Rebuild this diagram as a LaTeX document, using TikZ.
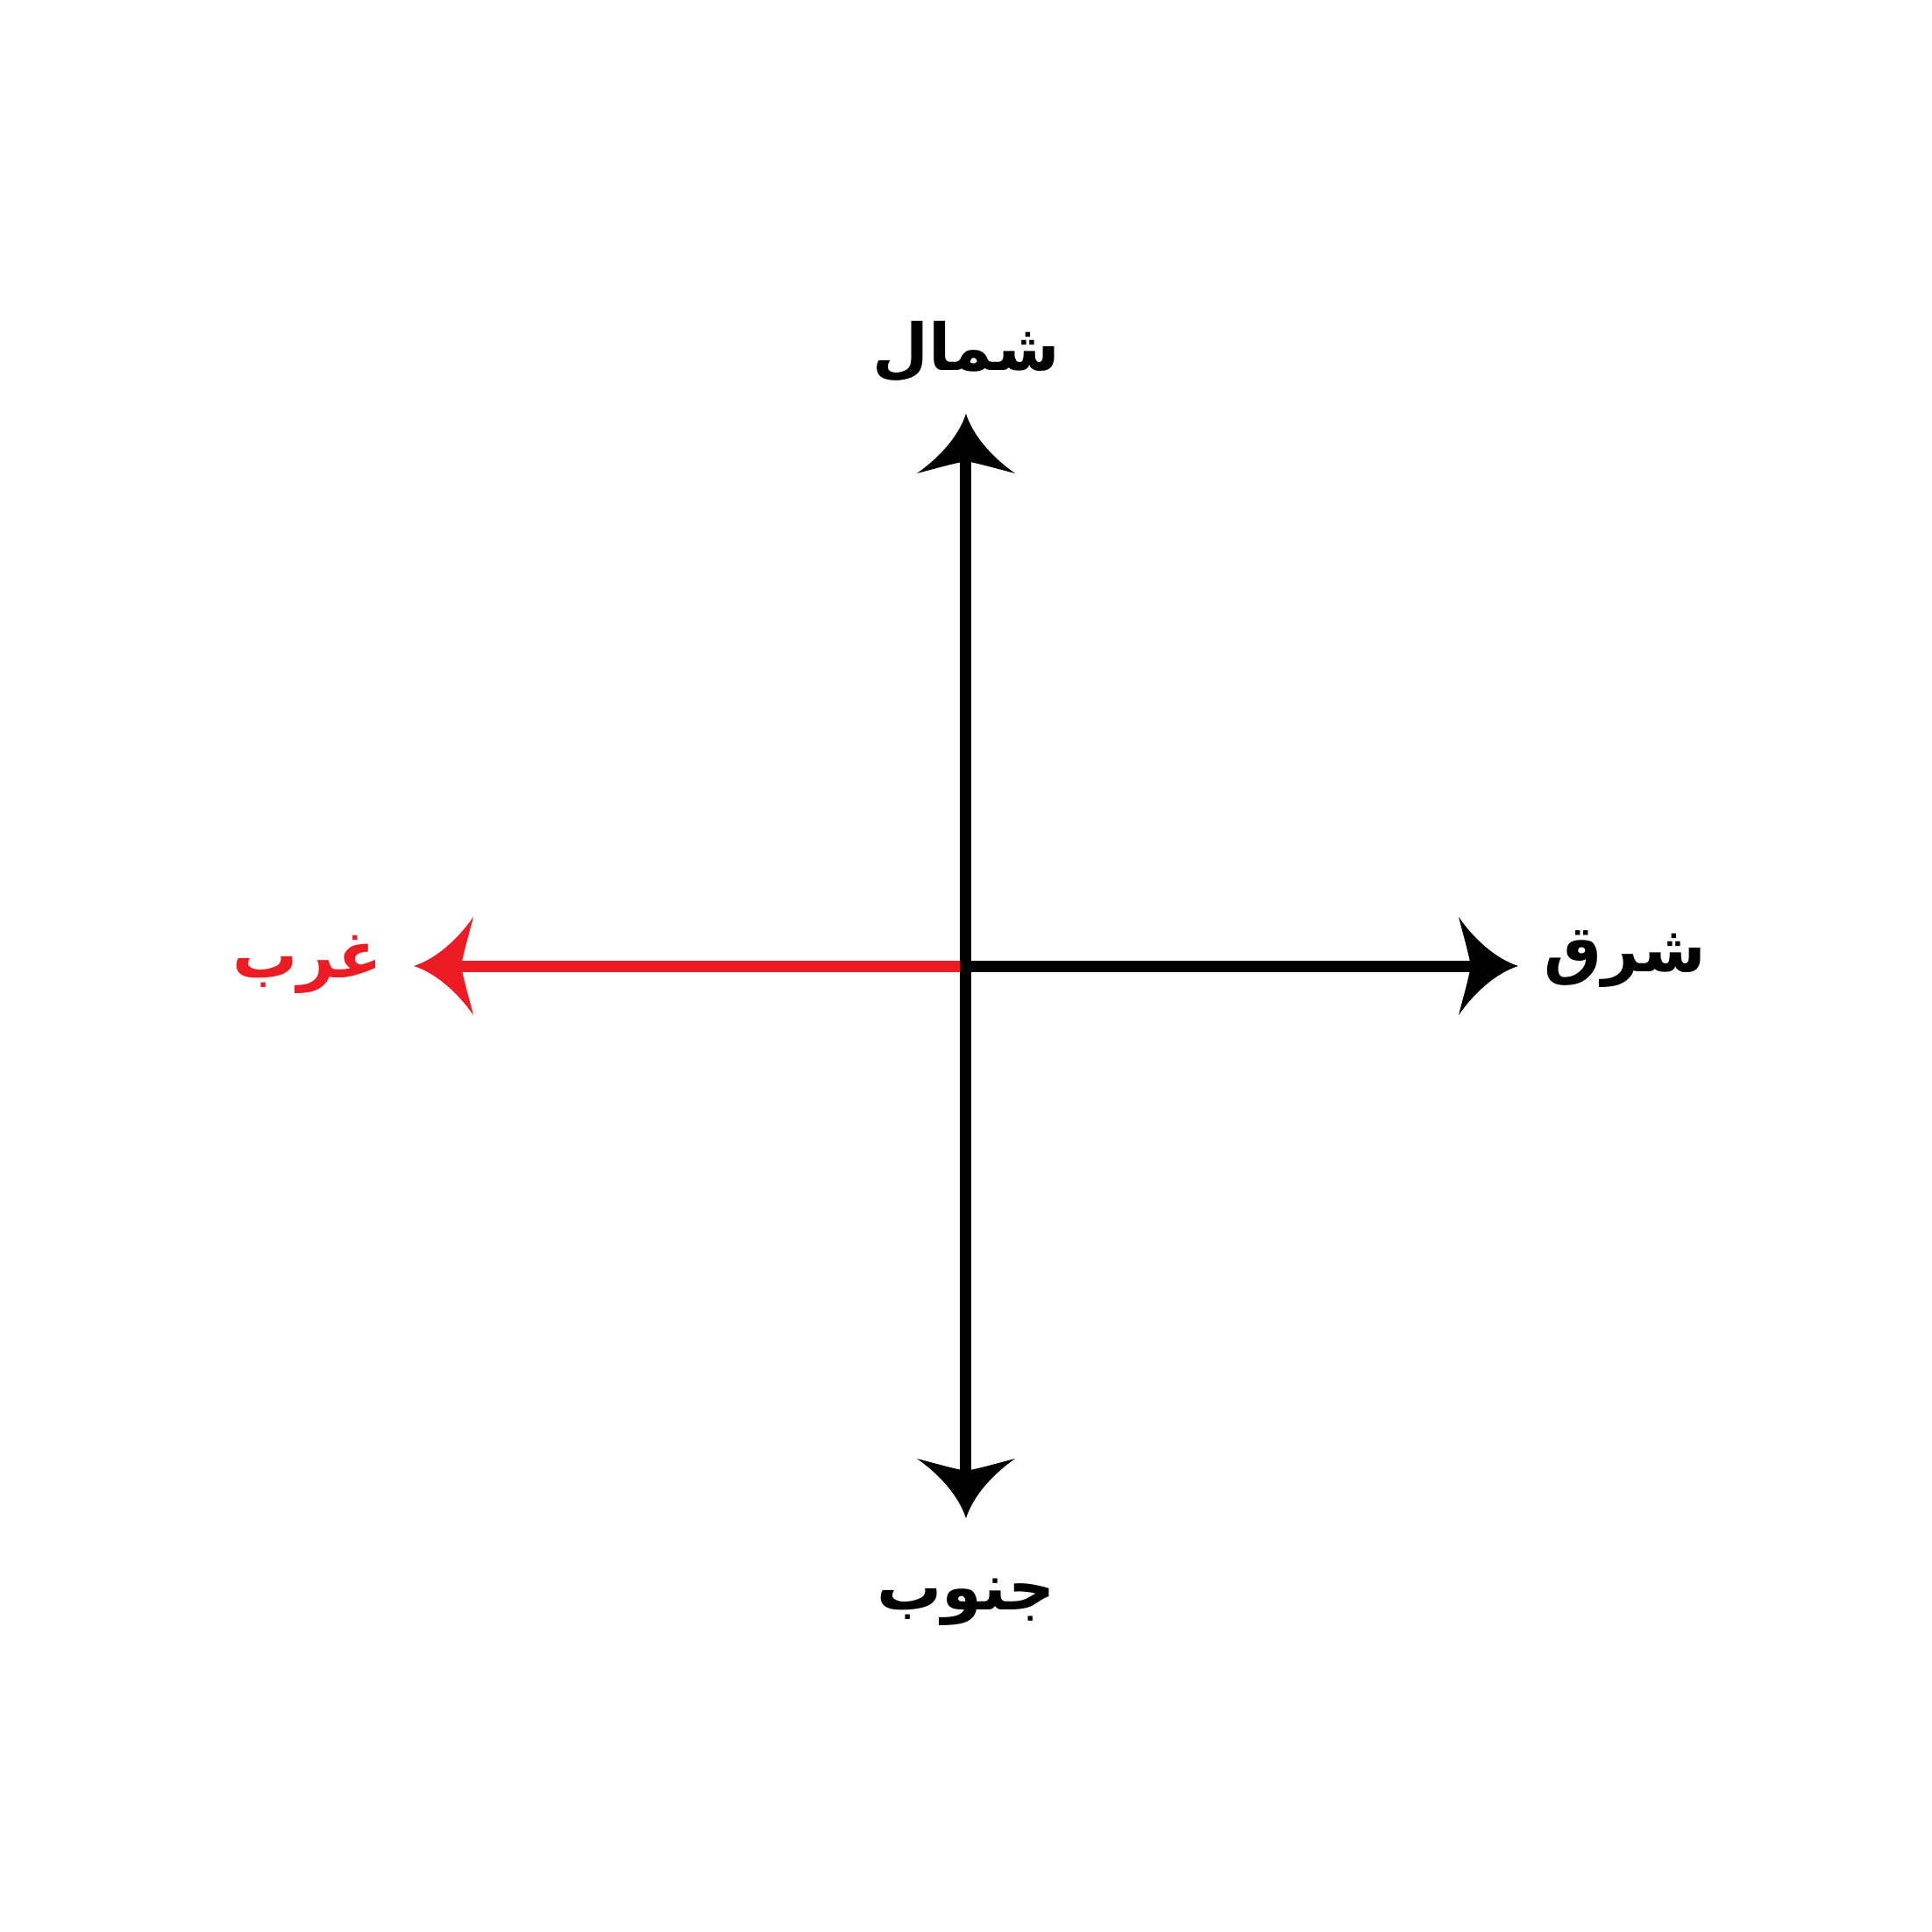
\documentclass[tikz,border=0pt]{standalone}
\usepackage{fontspec}
\usepackage{tikz}
\TeXXeTstate=1
\newfontfamily\arabicfont[Script=Arabic]{DejaVu Sans}
\definecolor{westred}{HTML}{ED1C24}
\pgfdeclarearrow{
  name = Flare,
  setup code = {
    \pgfarrowssettipend{0pt}
    \pgfarrowssetlineend{-0.5cm}
    \pgfarrowssetbackend{-0.68cm}
    \pgfarrowshullpoint{0pt}{0pt}
    \pgfarrowsupperhullpoint{-0.68cm}{0.56cm}
  },
  drawing code = {
    \pgfpathmoveto{\pgfpoint{0cm}{0cm}}
    \pgfpathcurveto{\pgfpoint{-0.25cm}{0.08cm}}{\pgfpoint{-0.5cm}{0.3cm}}{\pgfpoint{-0.68cm}{0.56cm}}
    \pgfpathcurveto{\pgfpoint{-0.64cm}{0.4cm}}{\pgfpoint{-0.58cm}{0.2cm}}{\pgfpoint{-0.54cm}{0cm}}
    \pgfpathcurveto{\pgfpoint{-0.58cm}{-0.2cm}}{\pgfpoint{-0.64cm}{-0.4cm}}{\pgfpoint{-0.68cm}{-0.56cm}}
    \pgfpathcurveto{\pgfpoint{-0.5cm}{-0.3cm}}{\pgfpoint{-0.25cm}{-0.08cm}}{\pgfpoint{0cm}{0cm}}
    \pgfpathclose
    \pgfusepathqfill
  }
}
\tikzset{
  dirline/.style={line width=0.13cm, -Flare},
  dirlabel/.style={inner sep=0pt, font=\arabicfont\bfseries\fontsize{21}{25}\selectfont}
}

\begin{document}
\begin{tikzpicture}
\useasboundingbox (-11.02,-11.02) rectangle (11.02,11.02);
\coordinate (o) at (0,0);
\coordinate (n) at (0,6.3);
\coordinate (s) at (0,-6.3);
\coordinate (e) at (6.3,0);
\coordinate (w) at (-6.3,0);
\node[dirlabel] (nlabel) at (0,7.01) {\beginR شمال\endR};
\node[dirlabel] (slabel) at (0,-7.26) {\beginR جنوب\endR};
\node[dirlabel] (elabel) at (7.52,0.08) {\beginR شرق\endR};
\node[dirlabel, text=westred] (wlabel) at (-7.51,0.02) {\beginR غرب\endR};
\draw[dirline, westred] (o) -- (w);
\draw[dirline] (o) -- (e);
\draw[dirline] (o) -- (n);
\draw[dirline] (o) -- (s);
\end{tikzpicture}
\end{document}
